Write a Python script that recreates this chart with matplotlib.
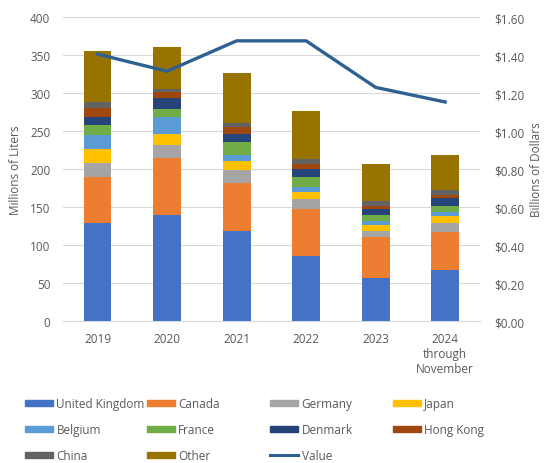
import matplotlib.pyplot as plt
import numpy as np
from matplotlib.lines import Line2D
from matplotlib.patches import Patch

plt.rcParams['font.family'] = ['Open Sans', 'DejaVu Sans']

years = ['2019', '2020', '2021', '2022', '2023', '2024\nthrough\nNovember']
countries = ['United Kingdom', 'Canada', 'Germany', 'Japan', 'Belgium', 'France',
             'Denmark', 'Hong Kong', 'China', 'Other']
colors = ['#4472c4', '#ed7d31', '#a5a5a5', '#ffc000', '#5b9bd5', '#70ad47',
          '#264478', '#9e480e', '#636363', '#997300']

# millions of liters by country
uk = [129, 140, 118, 86, 57, 67]
canada = [61, 74, 64, 62, 54, 50]
germany = [18, 18, 17, 12, 7, 12]
japan = [18, 14, 12, 10, 9, 9]
belgium = [19, 23, 8, 7, 5, 5]
france = [13, 10, 16, 13, 7, 9]
denmark = [11, 14, 11, 10, 9, 10]
hong_kong = [11, 8, 9, 7, 4, 4]
china = [8, 4, 6, 6, 6, 7]
other = [68, 55, 65, 64, 48, 46]

# billions of dollars
value = [1.405, 1.315, 1.475, 1.475, 1.23, 1.153]

series = [uk, canada, germany, japan, belgium, france, denmark, hong_kong, china, other]

txt = '#595959'
fs = 8.5
fig = plt.figure(figsize=(5.46, 4.64), dpi=100)
ax = fig.add_axes([0.115, 0.306, 0.764, 0.655])
x = np.arange(len(years))
bottom = np.zeros(len(years))
for name, vals, c in zip(countries, series, colors):
    ax.bar(x, vals, 0.4, bottom=bottom, color=c, label=name, zorder=3)
    bottom += np.array(vals)

ax.set_ylim(0, 400)
ax.set_yticks(range(0, 401, 50))
ax.set_xlim(-0.5, len(years) - 0.5)
ax.set_xticks(x)
ax.set_xticklabels(years)
ax.grid(axis='y', color='#d9d9d9', linewidth=0.8, zorder=0)
for s in ['top', 'left', 'right']:
    ax.spines[s].set_visible(False)
ax.spines['bottom'].set_color('#d9d9d9')
ax.tick_params(length=0, colors=txt, labelsize=fs)
ax.tick_params(axis='y', pad=9)
ax.tick_params(axis='x', pad=8)
ax.set_ylabel('Millions of Liters', color=txt, fontsize=fs, labelpad=6)

ax2 = ax.twinx()
ax2.plot(x, value, color='#2e6192', linewidth=2.4, zorder=5)
ax2.set_ylim(0, 1.6)
ax2.set_yticks(np.arange(0, 1.61, 0.2))
ax2.set_yticklabels(['${:.2f}'.format(v) for v in np.arange(0, 1.61, 0.2)])
for s in ['top', 'left', 'right', 'bottom']:
    ax2.spines[s].set_visible(False)
ax2.tick_params(length=0, colors=txt, labelsize=fs, pad=10)
ax2.set_ylabel('Billions of Dollars', color=txt, fontsize=fs, rotation=90, labelpad=4)

handles = [Patch(color=c) for c in colors]
handles.append(Line2D([0], [0], color='#2e6192', linewidth=2.2))
labels = countries + ['Value']
# legend laid out as four equal-width columns, row-major
cols = [[0, 4, 8], [1, 5, 9], [2, 6, 10], [3, 7]]
col_x = [0.046, 0.269, 0.495, 0.72]
for cx, idx in zip(col_x, cols):
    leg = fig.legend([handles[i] for i in idx], [labels[i] for i in idx],
                     loc='upper left', bbox_to_anchor=(cx, 0.142), ncol=1,
                     frameon=False, fontsize=fs, labelcolor=txt, handlelength=2.35,
                     handleheight=0.45, handletextpad=0.3, labelspacing=1.1,
                     borderpad=0, borderaxespad=0)

fig.savefig('out.png', dpi=100)
